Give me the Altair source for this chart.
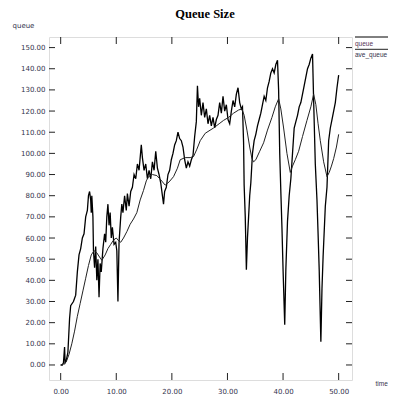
import altair as alt
import pandas as pd

# queue (instantaneous) series: time, value
q_t = [0.0, 0.3, 0.5, 0.7, 0.8, 1.0, 1.3, 1.6, 1.8, 2.3, 2.7, 3.0, 3.3, 3.6, 3.9, 4.2, 4.5, 4.8, 5.0, 5.2,
       5.4, 5.5, 5.6, 5.8, 5.9, 6.1, 6.3, 6.5, 6.7, 6.9, 7.1, 7.3, 7.6, 7.9, 8.1, 8.3, 8.5, 8.7, 8.9, 9.1,
       9.3, 9.6, 9.9, 10.1, 10.3, 10.5, 10.8, 11.0, 11.2, 11.5, 11.8, 12.0, 12.3, 12.6, 12.9, 13.2, 13.5, 13.8, 14.1, 14.5,
       14.7, 15.0, 15.3, 15.6, 15.9, 16.2, 16.5, 16.8, 17.1, 17.4, 17.7, 18.0, 18.3, 18.5, 18.7, 19.0, 19.3, 19.6, 19.9, 20.2,
       20.5, 20.8, 21.1, 21.4, 21.7, 22.0, 22.3, 22.6, 22.9, 23.2, 23.5, 23.8, 24.1, 24.4, 24.6, 24.8, 25.0, 25.3, 25.6, 25.9,
       26.2, 26.5, 26.8, 27.1, 27.4, 27.7, 28.0, 28.3, 28.6, 28.9, 29.2, 29.5, 29.8, 30.1, 30.4, 30.7, 31.0, 31.3, 31.6, 31.9,
       32.2, 32.5, 32.7, 32.9, 33.0, 33.2, 33.3, 33.4, 33.6, 33.8, 34.0, 34.2, 34.5, 34.8, 35.1, 35.4, 35.7, 36.0, 36.3, 36.6,
       36.9, 37.2, 37.5, 37.8, 38.1, 38.4, 38.7, 39.0, 39.2, 39.4, 39.6, 39.8, 40.0, 40.3, 40.5, 40.8, 41.1, 41.4, 41.7, 42.0,
       42.3, 42.6, 42.9, 43.2, 43.5, 43.8, 44.1, 44.4, 44.7, 45.0, 45.3, 45.5, 45.8, 46.1, 46.3, 46.5, 46.8, 47.0, 47.2, 47.6,
       47.9, 48.2, 48.5, 48.8, 49.1, 49.4, 49.7, 50.0]
q_v = [0, 0, 1, 8.5, 1, 2, 6, 22, 28, 30, 33, 44, 52, 55, 60, 62, 70, 73, 80, 82,
       78, 72, 80, 70, 54, 46, 56, 40, 50, 32, 48, 44, 55, 62, 58, 70, 76, 66, 72, 60,
       65, 57, 58, 54, 30, 58, 70, 76, 72, 80, 73, 81, 75, 82, 84, 90, 88, 95, 92, 104,
       98, 92, 95, 88, 92, 88, 96, 92, 101, 93, 90, 86, 80, 76, 82, 84, 90, 92, 97, 100,
       104, 106, 110, 107, 106, 103, 97, 93, 96, 94, 97, 99, 108, 115, 132, 122, 126, 118, 124, 117,
       121, 114, 118, 113, 117, 112, 116, 118, 124, 119, 127, 120, 123, 116, 114, 120, 125, 122, 128, 131,
       124, 121, 122, 105, 85, 70, 58, 45, 60, 70, 80, 86, 100, 106, 109, 113, 116, 119, 123, 127,
       125, 131, 134, 138, 140, 138, 142, 144, 130, 100, 82, 65, 45, 19, 45, 68, 80, 88, 100, 112,
       115, 118, 122, 124, 128, 132, 136, 140, 142, 145, 147, 125, 95, 78, 62, 45, 11, 36, 51, 75,
       84, 106, 112, 116, 120, 124, 131, 137]

# ave_queue (smoothed) series
a_t = [0.0, 0.5, 1.0, 1.5, 2.0, 2.5, 3.0, 3.5, 4.0, 4.5, 5.0, 5.5, 6.0, 6.5, 7.0, 7.4, 8.0, 8.5, 9.0, 9.5,
       10.0, 10.5, 10.8, 11.3, 11.9, 12.5, 13.1, 13.7, 14.3, 14.9, 15.4, 15.8, 16.5, 17.3, 18.0, 18.8, 19.5, 20.3, 21.0, 21.5,
       22.4, 23.3, 23.9, 24.5, 25.1, 26.0, 27.5, 28.5, 29.3, 30.2, 31.1, 32.0, 32.6, 33.0, 33.5, 34.0, 34.4, 34.7, 35.1, 35.8,
       36.5, 37.2, 38.0, 38.6, 39.2, 39.6, 40.1, 40.7, 41.3, 41.7, 42.2, 42.8, 43.5, 44.3, 45.0, 45.5, 45.9, 46.3, 46.7, 47.3,
       47.9, 48.3, 48.7, 49.1, 49.6, 50.0]
a_v = [0, 0.5, 1.5, 5, 10, 16, 23, 29, 35, 41, 47, 52, 54, 53, 51, 49.5, 52, 55, 57, 59,
       60, 58.5, 58, 60, 63, 66.5, 69, 72, 78, 82.5, 87, 89, 90, 89.5, 87.5, 85, 86.5, 89, 93, 97,
       98, 98, 98.5, 102, 106, 109.5, 112, 114, 115.6, 117, 119, 120.5, 121, 118, 111, 103, 97.5, 96, 97, 101,
       105, 111, 117, 122, 125.8, 121, 112, 100, 91, 94, 97, 101, 108, 115.6, 122, 128, 123, 114, 106, 96,
       89, 91, 94, 97.5, 103, 109]

x_ticks = [0, 10, 20, 30, 40, 50]
y_ticks = [0, 10, 20, 30, 40, 50, 60, 70, 80, 90, 100, 110, 120, 130, 140, 150]
series_names = ["queue", "ave_queue"]
title_text = "Queue Size"
x_title = "time"

W, H = 303, 343
LBL = "#33334d"
FONT = "DejaVu Sans"
SMALL_FONT = "Liberation Sans"

df = pd.concat([
    pd.DataFrame({"t": q_t, "v": q_v, "s": series_names[0]}),
    pd.DataFrame({"t": a_t, "v": a_v, "s": series_names[1]}),
])

xs = alt.Scale(domain=[-2.1, 52.4], nice=False, zero=False)
ys = alt.Scale(domain=[-7.1, 155], nice=False, zero=False)

xaxis = alt.Axis(values=x_ticks, format=".2f", ticks=False, tickSize=0, domain=False, grid=False,
                 labelFontSize=7, labelFont=FONT, labelColor=LBL, labelPadding=7, labelFlush=False,
                 labelOverlap=False,
                 title=x_title, titleFont=SMALL_FONT, titleFontSize=6.5, titleFontWeight="normal",
                 titleColor=LBL, titleAlign="left", titleBaseline="middle", titleX=326, titleY=3)
yaxis = alt.Axis(values=y_ticks, format=".2f", ticks=False, tickSize=0, domain=False, grid=False,
                 labelFontSize=7, labelFont=FONT, labelColor=LBL, labelPadding=4, labelFlush=False,
                 labelOverlap=False,
                 title="queue", titleFont=FONT, titleFontSize=7, titleFontWeight="normal", titleColor=LBL,
                 titleAngle=0, titleAlign="left", titleBaseline="middle", titleX=-37, titleY=-12)

q_line = alt.Chart(df).transform_filter(alt.datum.s == "queue").mark_line(
    color="#000000", strokeWidth=1.3).encode(
    x=alt.X("t:Q", scale=xs, axis=xaxis),
    y=alt.Y("v:Q", scale=ys, axis=yaxis),
)
a_line = alt.Chart(df).transform_filter(alt.datum.s == "ave_queue").mark_line(
    color="#222222", strokeWidth=1).encode(
    x=alt.X("t:Q", scale=xs, axis=xaxis),
    y=alt.Y("v:Q", scale=ys, axis=yaxis),
)

xt = pd.DataFrame({"t": x_ticks})
yt = pd.DataFrame({"v": y_ticks})
tick_style = dict(color="#222222", strokeWidth=1)
xb = alt.Chart(xt).mark_rule(**tick_style).encode(
    x=alt.X("t:Q", scale=xs, axis=xaxis), y=alt.value(H), y2=alt.value(H - 7))
xtop = alt.Chart(xt).mark_rule(**tick_style).encode(
    x=alt.X("t:Q", scale=xs, axis=xaxis), y=alt.value(0), y2=alt.value(7))
yl = alt.Chart(yt).mark_rule(**tick_style).encode(
    y=alt.Y("v:Q", scale=ys, axis=yaxis), x=alt.value(0), x2=alt.value(6))
yr = alt.Chart(yt).mark_rule(**tick_style).encode(
    y=alt.Y("v:Q", scale=ys, axis=yaxis), x=alt.value(W), x2=alt.value(W - 6))

one = pd.DataFrame({"k": [0]})
title_mark = alt.Chart(one).mark_text(text=title_text, align="center", baseline="alphabetic",
                                      font="Liberation Serif", fontSize=12.5, fontWeight="bold",
                                      color="#000000").encode(x=alt.value(156), y=alt.value(-19))
leg1_line = alt.Chart(one).mark_rule(color="#000000", strokeWidth=1).encode(
    x=alt.value(306), x2=alt.value(360), y=alt.value(0))
leg1_text = alt.Chart(one).mark_text(text=series_names[0], align="left", baseline="middle",
                                     font=SMALL_FONT, fontSize=6.5, color="#553355").encode(
    x=alt.value(306), y=alt.value(6.5))
leg2_line = alt.Chart(one).mark_rule(color="#222222", strokeWidth=1).encode(
    x=alt.value(306), x2=alt.value(360), y=alt.value(12.3))
leg2_text = alt.Chart(one).mark_text(text=series_names[1], align="left", baseline="middle",
                                     font=SMALL_FONT, fontSize=6.5, color="#33334d").encode(
    x=alt.value(306), y=alt.value(18))

chart = alt.layer(
    q_line, a_line, xb, xtop, yl, yr, title_mark, leg1_line, leg1_text, leg2_line, leg2_text
).properties(
    width=W, height=H,
    autosize=alt.AutoSizeParams(type="none"),
    padding={"left": 41, "top": 29, "right": 36, "bottom": 15},
).configure_view(stroke="#222222", strokeWidth=1.5).configure(background="#ffffff")

chart.save("out.html", embed_options={"renderer": "svg", "actions": False})
